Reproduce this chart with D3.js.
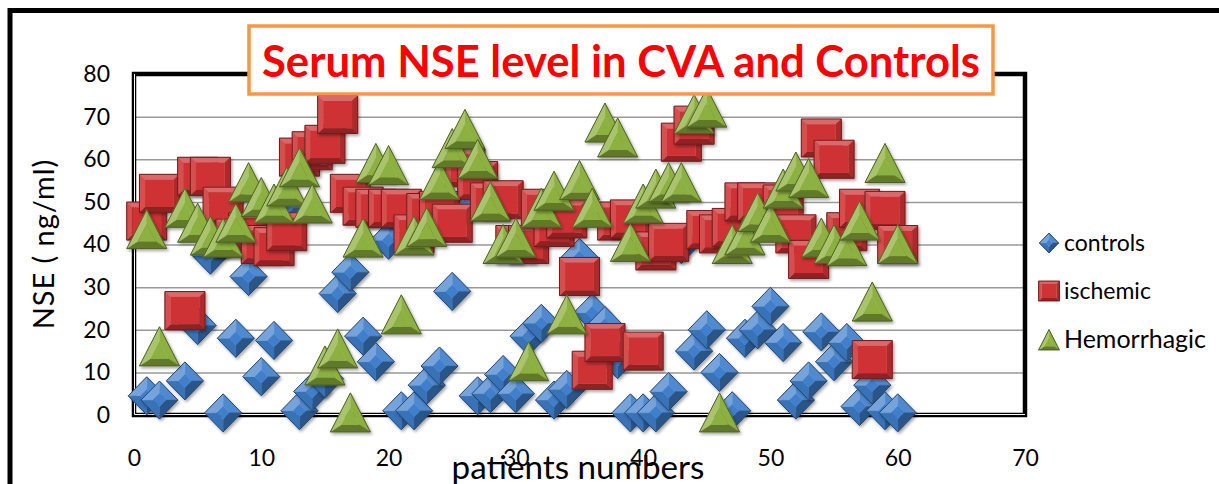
<html>
  <head>
    <meta charset="utf-8" />
    <script src="https://cdn.jsdelivr.net/npm/d3@7"></script>
    <style>
      body { margin: 0; background: #fff; }
      text { font-family: Lato, "Open Sans", sans-serif; }
    </style>
  </head>
  <body>
    <div id="chart"></div>
    <script>
      // values (patient number, NSE ng/ml)
      const controlsX = [1, 2, 4, 5, 6, 7, 8, 9, 10, 11, 12, 13, 14, 15, 16, 17, 18, 19, 20, 21,
                         22, 23, 24, 25, 26, 27, 28, 29, 30, 31, 32, 33, 34, 35, 36, 37, 38, 39, 40, 41,
                         42, 43, 44, 45, 46, 47, 48, 49, 50, 51, 52, 53, 54, 55, 56, 57, 58, 59, 60];
      const controlsY = [4.5, 3.5, 8, 21, 37.5, 0.5, 18, 32.5, 9, 17.5, 48.5, 1, 5.5, 8.5, 28.5, 33.5, 18.5, 12.5, 41, 1,
                         1, 7, 11.5, 29, 49, 4.5, 5, 9.5, 5, 18.5, 21.5, 3.5, 6, 37, 24, 21, 13, 0.5, 0.5, 0.5,
                         5.5, 40, 15, 20, 10, 1, 18, 20, 25.5, 17, 3.5, 8, 19.5, 12.5, 17, 2, 7, 1, 0.5];

      const ischemicX = [1, 2, 4, 5, 6, 7, 8, 9, 10, 11, 12, 13, 14, 15, 16, 17, 18, 19, 20, 21,
                         22, 23, 24, 25, 26, 27, 28, 29, 30, 31, 32, 33, 34, 35, 36, 37, 38, 39, 40, 41,
                         42, 43, 44, 45, 46, 47, 48, 49, 51, 52, 53, 54, 55, 56, 57, 58, 59, 60];
      const ischemicY = [45.5, 52, 24.5, 56, 56, 49, 41.5, 43, 40, 39.5, 43, 60.5, 62, 63.5, 70.5, 52, 49, 48.5, 48.5, 48.5,
                         42.5, 47.5, 48, 45, 58, 55, 50, 50.5, 40, 40, 48.5, 44, 46, 32.5, 10.5, 17, 45.5, 46, 15, 38.5,
                         40.5, 64, 68, 43.5, 42.5, 44, 50, 50, 49.5, 42.5, 36.5, 65, 60, 43, 48.5, 13, 48, 40];

      const hemorrhagicX = [1, 2, 4, 5, 6, 7, 8, 9, 10, 11, 12, 13, 14, 15, 16, 17, 18, 19, 20, 21,
                            22, 23, 24, 25, 26, 27, 28, 29, 30, 31, 32, 33, 34, 35, 36, 37, 38, 39, 40, 41,
                            42, 43, 44, 45, 46, 47, 48, 49, 50, 51, 52, 53, 54, 55, 56, 57, 58, 59, 60];
      const hemorrhagicY = [43.5, 16, 48.5, 45, 42, 41.5, 45, 54.5, 51, 49.5, 53.5, 58, 49.5, 11.5, 15.5, 0.5, 41.5, 59, 58.5, 23.5,
                            42, 44, 55, 62.5, 67, 60, 50, 40, 41.5, 12.5, 48.5, 52.5, 23.5, 55, 48.5, 68.5, 65, 40.5, 49.5, 53,
                            54.5, 54.5, 70.5, 72, 0.5, 40, 42, 47.5, 45, 53, 57, 55.5, 41.5, 40, 39.5, 45.5, 26.5, 59, 40];

      const seriesNames = ["controls", "ischemic", "Hemorrhagic"];
      const xTicks = [0, 10, 20, 30, 40, 50, 60, 70];
      const yTicks = [0, 10, 20, 30, 40, 50, 60, 70, 80];

      const W = 1219, H = 484;
      const svg = d3.select("#chart").append("svg").attr("width", W).attr("height", H);

      const defs = svg.append("defs");
      const flt = defs.append("filter").attr("id", "shadow")
        .attr("x", "-30%").attr("y", "-30%").attr("width", "170%").attr("height", "170%");
      flt.append("feDropShadow").attr("dx", 1.5).attr("dy", 2).attr("stdDeviation", 1.5)
        .attr("flood-color", "#000").attr("flood-opacity", 0.35);

      // outer frame
      svg.append("rect").attr("x", 10).attr("y", 10.5).attr("width", 1230).attr("height", 500)
        .attr("fill", "#fff").attr("stroke", "#000").attr("stroke-width", 5);

      const x = d3.scaleLinear().domain([0, 70]).range([134, 1025]);
      const y = d3.scaleLinear().domain([0, 80]).range([415, 74]);

      // grid
      svg.append("g")
        .attr("transform", "translate(" + x(0) + ",0)")
        .call(d3.axisLeft(y).tickValues(yTicks.slice(1, -1)).tickSize(-(x(70) - x(0))).tickFormat(""))
        .call(g => g.select(".domain").remove())
        .call(g => g.selectAll("line").attr("stroke", "#9a9a9a").attr("stroke-width", 1.5));

      // plot area border
      svg.append("rect").attr("x", x(0)).attr("y", y(80)).attr("width", x(70) - x(0)).attr("height", y(0) - y(80))
        .attr("fill", "none").attr("stroke", "#000").attr("stroke-width", 4.5);
      svg.append("path")
        .attr("d", "M" + (x(0) + 0.5) + "," + y(80) + "V" + (y(0) - 0.5) + "H" + x(70))
        .attr("fill", "none").attr("stroke", "#fff").attr("stroke-width", 1);

      // tick labels
      svg.append("g")
        .attr("transform", "translate(110,0)")
        .call(d3.axisLeft(y).tickValues(yTicks).tickSize(0).tickPadding(0))
        .call(g => g.select(".domain").remove())
        .call(g => g.selectAll("text").attr("font-size", 23).attr("fill", "#000")
          .attr("font-family", "Lato, sans-serif"));
      svg.append("g")
        .attr("transform", "translate(0,450)")
        .call(d3.axisBottom(x).tickValues(xTicks).tickSize(0).tickPadding(0))
        .call(g => g.select(".domain").remove())
        .call(g => g.selectAll("text").attr("font-size", 23).attr("fill", "#000")
          .attr("font-family", "Lato, sans-serif"));

      function fitText(t, width) {
        const fs = parseFloat(t.attr("font-size"));
        const len = t.node().getComputedTextLength();
        t.attr("font-size", fs * width / len);
      }

      // axis titles
      const yl = svg.append("text").attr("transform", "translate(54,244) rotate(-90)")
        .attr("text-anchor", "middle").attr("font-size", 24).attr("fill", "#000")
        .attr("letter-spacing", 1)
        .text("NSE ( ng/ml)");
      fitText(yl, 173);
      const xl = svg.append("text").attr("x", 578).attr("y", 479)
        .attr("text-anchor", "middle").attr("font-size", 26).attr("fill", "#000")
        .text("patients numbers");
      fitText(xl, 253);

      // bevelled marker shapes
      const shapes = {
        diamond: { pts: [[0, -19], [18.5, 0], [0, 19], [-18.5, 0]], k: 0.35 },
        square: { pts: [[-20, -19], [20, -19], [20, 19], [-20, 19]], k: 0.72 },
        triangle: { pts: [[0, -20], [20, 19], [-20, 19]], k: 0.45 }
      };
      const colors = { diamond: "#3f7fcc", square: "#cf3334", triangle: "#8db13f" };
      const light = [-0.45, -0.89];

      function marker(g, type, scale) {
        const s = shapes[type], base = colors[type];
        const pts = s.pts.map(p => [p[0] * scale, p[1] * scale]);
        const c = [d3.mean(pts, p => p[0]), d3.mean(pts, p => p[1])];
        const inner = pts.map(p => [c[0] + (p[0] - c[0]) * s.k, c[1] + (p[1] - c[1]) * s.k]);
        const line = d3.line();
        for (let i = 0; i < pts.length; i++) {
          const a = pts[i], b = pts[(i + 1) % pts.length];
          let nx = b[1] - a[1], ny = -(b[0] - a[0]);
          const l = Math.hypot(nx, ny); nx /= l; ny /= l;
          const mx = (a[0] + b[0]) / 2 - c[0], my = (a[1] + b[1]) / 2 - c[1];
          if (nx * mx + ny * my < 0) { nx = -nx; ny = -ny; }
          const d = nx * light[0] + ny * light[1];
          const col = d > 0 ? d3.interpolateRgb(base, "#fff")(d * 0.3) : d3.interpolateRgb(base, "#000")(-d * 0.35);
          g.append("path").attr("d", line([a, b, inner[(i + 1) % pts.length], inner[i]]) + "Z")
            .attr("fill", col).attr("stroke", col).attr("stroke-width", 0.4);
        }
        g.append("path").attr("d", line(inner) + "Z").attr("fill", base);
        g.append("path").attr("d", line(pts) + "Z").attr("fill", "none")
          .attr("stroke", d3.interpolateRgb(base, "#000")(0.45)).attr("stroke-width", 1);
      }

      const series = [
        { xs: controlsX, ys: controlsY, type: "diamond" },
        { xs: ischemicX, ys: ischemicY, type: "square" },
        { xs: hemorrhagicX, ys: hemorrhagicY, type: "triangle" }
      ];

      series.forEach(sr => {
        const pts = sr.xs.map((v, i) => [v, sr.ys[i]]);
        svg.append("g").selectAll("g").data(pts).join("g")
          .attr("transform", d => "translate(" + x(d[0]) + "," + y(d[1]) + ")")
          .attr("filter", "url(#shadow)")
          .each(function () { marker(d3.select(this), sr.type, 1); });
      });

      // legend
      const legendY = [243, 291, 340];
      series.forEach((sr, i) => {
        const g = svg.append("g").attr("transform", "translate(1049," + legendY[i] + ")");
        marker(g, sr.type, 0.52);
        const t = g.append("text").attr("x", 15).attr("y", 8).attr("font-size", 23).attr("fill", "#000")
          .text(seriesNames[i]);
        if (i === 2) fitText(t, 142);
      });

      // chart title
      svg.append("rect").attr("x", 249).attr("y", 26).attr("width", 744).attr("height", 68)
        .attr("fill", "#fff").attr("stroke", "#f79646").attr("stroke-width", 3.5);
      const tt = svg.append("text").attr("x", 621).attr("y", 77).attr("text-anchor", "middle")
        .attr("font-size", 44).attr("font-weight", "bold").attr("fill", "#ff0000")
        .text("Serum NSE level in CVA and Controls");
      fitText(tt, 718);
    </script>
  </body>
</html>
